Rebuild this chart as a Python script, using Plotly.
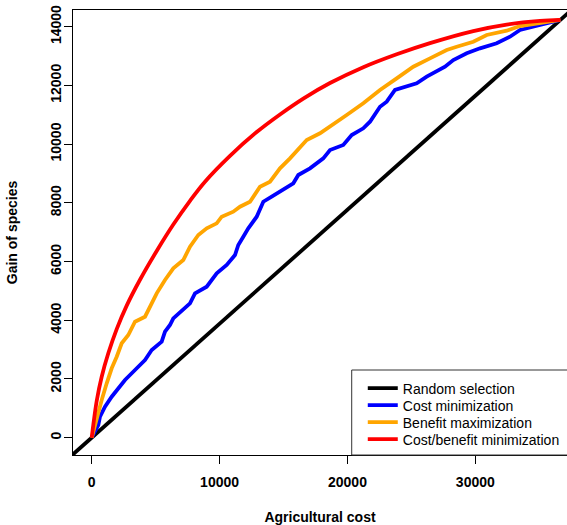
import plotly.graph_objects as go

# ---- data ----
total_cost = 36650
total_species = 14230

red_x = [0, 125, 391, 782, 1298, 1955, 2737, 3777, 5083, 6381, 7687, 8860, 10815,
         12903, 14725, 16547, 18635, 21239, 23851, 26455, 29841, 32453, 35057, 36650]
red_y = [0, 430, 1250, 2078, 2875, 3700, 4500, 5380, 6360, 7260, 8070, 8720, 9600,
         10410, 11010, 11550, 12080, 12620, 13060, 13440, 13850, 14070, 14195, 14230]

orange_x = [0, 391, 782, 1173, 1564, 1955, 2346, 2862, 3386, 4168, 4559, 5083, 5732,
            6381, 7163, 7687, 8336, 8993, 9775, 10166, 11073, 11597, 12379, 13161,
            13943, 14725, 15507, 16289, 16813, 17853, 18635, 19941, 21239, 22545,
            23851, 25149, 26455, 27761, 28543, 29841, 30889, 32453, 33493, 35057, 36650]
orange_y = [0, 661, 1284, 1853, 2364, 2759, 3215, 3498, 3951, 4121, 4462, 4918, 5371,
            5770, 6052, 6505, 6904, 7132, 7302, 7527, 7698, 7868, 8038, 8549,
            8719, 9176, 9516, 9911, 10140, 10368, 10593, 10991, 11390, 11843,
            12241, 12636, 12922, 13205, 13317, 13488, 13716, 13862, 14022, 14114, 14230]

blue_x = [0, 516, 649, 1040, 1564, 2080, 2604, 3386, 4168, 4692, 5474, 5732, 6123,
          6381, 7687, 8078, 8993, 9775, 10557, 11206, 11464, 11855, 12246, 12903,
          13419, 14076, 14983, 15765, 16156, 17071, 18111, 18635, 19675, 20332,
          21239, 21763, 22545, 23069, 23718, 24633, 25415, 26197, 26979, 27628,
          28277, 29325, 30365, 31671, 32711, 33493, 35057, 36650]
blue_y = [0, 433, 715, 1056, 1396, 1683, 1965, 2306, 2646, 2987, 3270, 3610, 3839,
          4067, 4578, 4918, 5143, 5599, 5882, 6223, 6563, 6846, 7132, 7527,
          8038, 8208, 8437, 8665, 8948, 9176, 9516, 9799, 9969, 10310,
          10538, 10763, 11274, 11444, 11843, 11955, 12071, 12296, 12466, 12636,
          12864, 13093, 13263, 13433, 13658, 13886, 14057, 14230]

# random selection: straight line through origin with slope total_species/total_cost
random_x = [-2000, 0, total_cost, 40000]
random_y = [v * total_species / total_cost for v in random_x]

series_names = ["Random selection", "Cost minimization",
                "Benefit maximization", "Cost/benefit minimization"]
series_x = [random_x, blue_x, orange_x, red_x]
series_y = [random_y, blue_y, orange_y, red_y]
series_colors = ["#000000", "#0000FF", "#FFA500", "#FF0000"]
series_shape = ["linear", "linear", "linear", "spline"]

x_ticks = [0, 10000, 20000, 30000]
y_ticks = [0, 2000, 4000, 6000, 8000, 10000, 12000, 14000]

FONT = "Liberation Sans, Arial, Helvetica, sans-serif"

legend_ids = ["legend", "legend2", "legend3", "legend4"]
legend_top = [0.1854, 0.1472, 0.1090, 0.0708]
LEG_X = 0.5866

fig = go.Figure()
for i in range(4):
    fig.add_trace(go.Scatter(x=series_x[i], y=series_y[i], mode="lines",
                             name=series_names[i], legend=legend_ids[i],
                             line=dict(color=series_colors[i], width=3.8,
                                       shape=series_shape[i])))

leg_common = dict(x=LEG_X, xanchor="left", yanchor="top",
                  bgcolor="rgba(0,0,0,0)", borderwidth=0,
                  font=dict(family=FONT, size=14, color="black"), itemwidth=30)

fig.update_layout(
    width=567, height=525,
    margin=dict(l=73, r=0, t=10, b=70),
    plot_bgcolor="white", paper_bgcolor="white",
    font=dict(family=FONT, color="black", size=14),
    showlegend=True,
    legend=dict(y=legend_top[0], **leg_common),
    legend2=dict(y=legend_top[1], **leg_common),
    legend3=dict(y=legend_top[2], **leg_common),
    legend4=dict(y=legend_top[3], **leg_common),
    shapes=[dict(type="rect", xref="paper", yref="paper",
                 x0=0.5642, x1=1.2, y0=0, y1=0.191,
                 line=dict(color="#333333", width=1), fillcolor="white",
                 layer="above")],
)

fig.update_xaxes(
    range=[-1462, 37168], tickvals=x_ticks, ticktext=[str(v) for v in x_ticks],
    showgrid=False, zeroline=False,
    showline=True, linecolor="black", linewidth=1, mirror=True,
    ticks="outside", ticklen=8, tickcolor="black", tickwidth=1,
    ticklabelstandoff=6,
    tickfont=dict(family=FONT, size=14, weight="bold"),
    title=dict(text="Agricultural cost", font=dict(family=FONT, size=14, weight="bold"),
               standoff=23),
)
fig.update_yaxes(
    range=[-589, 14568], tickvals=y_ticks, ticktext=[str(v) for v in y_ticks],
    showgrid=False, zeroline=False,
    showline=True, linecolor="black", linewidth=1, mirror=False,
    ticks="outside", ticklen=8, tickcolor="black", tickwidth=1,
    tickangle=-90, ticklabelstandoff=-3,
    tickfont=dict(family=FONT, size=14, weight="bold"),
    title=dict(text="Gain of species", font=dict(family=FONT, size=14, weight="bold"),
               standoff=27),
)

fig.write_html("out.html")
